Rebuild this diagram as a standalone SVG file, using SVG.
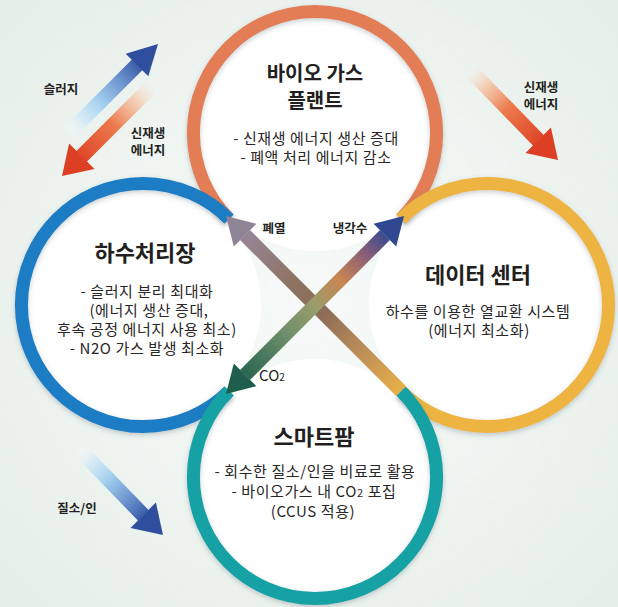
<svg xmlns="http://www.w3.org/2000/svg" width="618" height="607" viewBox="0 0 618 607">
<defs>
<style>
.t{font-family:"Noto Sans CJK KR","Noto Sans",sans-serif;fill:#231f20;text-anchor:middle}
.title{font-size:22px;font-weight:700}
.title2{font-size:20px;font-weight:700}
.body{font-size:15px;letter-spacing:0.6px;fill:#2a2627}
.lab{font-size:12.5px;font-weight:700}
.ring{fill:none;stroke-width:13;stroke-linecap:butt}
.disc{fill:#ffffff}
.band{fill:none;stroke-width:14;stroke-linecap:butt}
.shaft{fill:none;stroke-width:15;stroke-linecap:butt}
</style>
<radialGradient id="bg" cx="0.5" cy="0.5" r="0.75">
<stop offset="0" stop-color="#f7faf8"/>
<stop offset="1" stop-color="#e5eee9"/>
</radialGradient>
<filter id="sh" x="-10%" y="-10%" width="120%" height="120%">
<feDropShadow dx="0" dy="2" stdDeviation="2.5" flood-color="#4a5a6a" flood-opacity="0.3"/>
</filter>
<linearGradient id="gUL" gradientUnits="userSpaceOnUse" x1="245" y1="235" x2="401" y2="391">
<stop offset="0" stop-color="#958596"/>
<stop offset="0.3" stop-color="#8f7363"/>
<stop offset="0.5" stop-color="#8b6c58"/>
<stop offset="0.72" stop-color="#b88a58"/>
<stop offset="1" stop-color="#e8b048"/>
</linearGradient>
<linearGradient id="gUR" gradientUnits="userSpaceOnUse" x1="245" y1="375" x2="385" y2="235">
<stop offset="0" stop-color="#2a6651"/>
<stop offset="0.3" stop-color="#6f8f6c"/>
<stop offset="0.5" stop-color="#9a9c6a"/>
<stop offset="0.68" stop-color="#c98651"/>
<stop offset="0.86" stop-color="#8a5e78"/>
<stop offset="1" stop-color="#3c4c8e"/>
</linearGradient>
<linearGradient id="gBlue1" gradientUnits="userSpaceOnUse" x1="68" y1="134" x2="137" y2="65">
<stop offset="0" stop-color="#ffffff" stop-opacity="0"/>
<stop offset="0.2" stop-color="#cfe8f7" stop-opacity="0.7"/>
<stop offset="0.45" stop-color="#a6d2f0"/>
<stop offset="0.78" stop-color="#6a91cd"/>
<stop offset="1" stop-color="#3d5faa"/>
</linearGradient>
<linearGradient id="gBlue2" gradientUnits="userSpaceOnUse" x1="78" y1="448" x2="143" y2="515">
<stop offset="0" stop-color="#ffffff" stop-opacity="0"/>
<stop offset="0.2" stop-color="#cfe8f7" stop-opacity="0.7"/>
<stop offset="0.45" stop-color="#a6d2f0"/>
<stop offset="0.78" stop-color="#6a91cd"/>
<stop offset="1" stop-color="#3d5faa"/>
</linearGradient>
<linearGradient id="gRed1" gradientUnits="userSpaceOnUse" x1="152" y1="86" x2="82" y2="156">
<stop offset="0" stop-color="#fbe3d2" stop-opacity="0"/>
<stop offset="0.22" stop-color="#f4c7a8" stop-opacity="0.8"/>
<stop offset="0.55" stop-color="#ec7a4c"/>
<stop offset="1" stop-color="#e0482a"/>
</linearGradient>
<linearGradient id="gRed2" gradientUnits="userSpaceOnUse" x1="470" y1="70" x2="538" y2="140">
<stop offset="0" stop-color="#fbe3d2" stop-opacity="0"/>
<stop offset="0.22" stop-color="#f4c7a8" stop-opacity="0.8"/>
<stop offset="0.55" stop-color="#ec7a4c"/>
<stop offset="1" stop-color="#e0482a"/>
</linearGradient>
</defs>

<rect x="0" y="0" width="618" height="607" fill="url(#bg)"/>

<g id="discs">
<circle class="disc" cx="315" cy="133" r="118"/>
<circle class="disc" cx="143" cy="305" r="118"/>
<circle class="disc" cx="487" cy="305" r="118"/>
<circle class="disc" cx="315" cy="477" r="118"/>
</g>

<g id="node-biogas">
<path class="ring" stroke="#e27d55" filter="url(#sh)" d="M229 219 A121.6 121.6 0 1 1 401 219"/>
<text class="t title2" x="315" y="80.5">바이오 가스</text>
<text class="t title2" x="315" y="108">플랜트</text>
<text class="t body" x="316" y="144">- 신재생 에너지 생산 증대</text>
<text class="t body" x="316" y="163">- 폐액 처리 에너지 감소</text>
</g>

<g id="node-sewage">
<path class="ring" stroke="#1c7dc4" filter="url(#sh)" d="M229 219 A121.6 121.6 0 1 0 229 391"/>
<text class="t title" x="145" y="261">하수처리장</text>
<text class="t body" x="147" y="297">- 슬러지 분리 최대화</text>
<text class="t body" x="149" y="316">(에너지 생산 증대,</text>
<text class="t body" x="147" y="335">후속 공정 에너지 사용 최소)</text>
<text class="t body" x="147" y="354">- N2O 가스 발생 최소화</text>
</g>

<g id="node-datacenter">
<path class="ring" stroke="#edb443" filter="url(#sh)" d="M401 219 A121.6 121.6 0 1 1 401 391"/>
<text class="t title" x="478" y="283">데이터 센터</text>
<text class="t body" x="478" y="317">하수를 이용한 열교환 시스템</text>
<text class="t body" x="479" y="336">(에너지 최소화)</text>
</g>

<g id="node-smartfarm">
<path class="ring" stroke="#17a2a5" filter="url(#sh)" d="M229 391 A121.6 121.6 0 1 0 401 391"/>
<text class="t title" x="314" y="445">스마트팜</text>
<text class="t body" x="315" y="477">- 회수한 질소/인을 비료로 활용</text>
<text class="t body" x="314" y="497">- 바이오가스 내 CO<tspan font-size="11">2</tspan> 포집</text>
<text class="t body" x="313" y="517">(CCUS 적용)</text>
</g>

<g id="connectors">
<line class="band" stroke="url(#gUL)" x1="245" y1="235" x2="401" y2="391"/>
<polygon fill="#8e8496" points="226,216 256.4,223.8 233.8,246.4"/>
<line class="band" stroke="url(#gUR)" x1="245" y1="375" x2="385" y2="235"/>
<polygon fill="#2f4890" points="404,216 396.2,246.4 373.6,223.8"/>
<polygon fill="#1f5e4d" points="226,394 256.4,386.2 233.8,363.6"/>

<line class="shaft" stroke="url(#gBlue1)" x1="68" y1="134" x2="137.5" y2="64.5"/>
<polygon fill="#2f4f9e" points="158,44 148.3,76.3 125.7,53.7"/>
<line class="shaft" stroke="url(#gRed1)" x1="152" y1="86" x2="81.5" y2="156.5"/>
<polygon fill="#dc3f24" points="62,176 94.5,168.9 69.1,143.5"/>
<line class="shaft" stroke="url(#gRed2)" x1="470" y1="70" x2="538.5" y2="140.5"/>
<polygon fill="#dc3f24" points="558,160 525.5,152.9 550.9,127.5"/>
<line class="shaft" stroke="url(#gBlue2)" x1="78" y1="448" x2="143.5" y2="515.5"/>
<polygon fill="#2f4f9e" points="163,535 130.5,527.9 155.9,502.5"/>

<text class="t lab" x="61" y="94">슬러지</text>
<text class="t lab" x="148" y="137.6">신재생</text>
<text class="t lab" x="148" y="155.2">에너지</text>
<text class="t lab" x="541" y="91.6">신재생</text>
<text class="t lab" x="541" y="109.2">에너지</text>
<text class="t lab" x="77" y="513">질소/인</text>
<text class="t lab" x="274" y="233">폐열</text>
<text class="t lab" x="350" y="233">냉각수</text>
<text class="t" font-size="15" x="272" y="381" text-anchor="start">CO<tspan font-size="10">2</tspan></text>
</g>
</svg>
